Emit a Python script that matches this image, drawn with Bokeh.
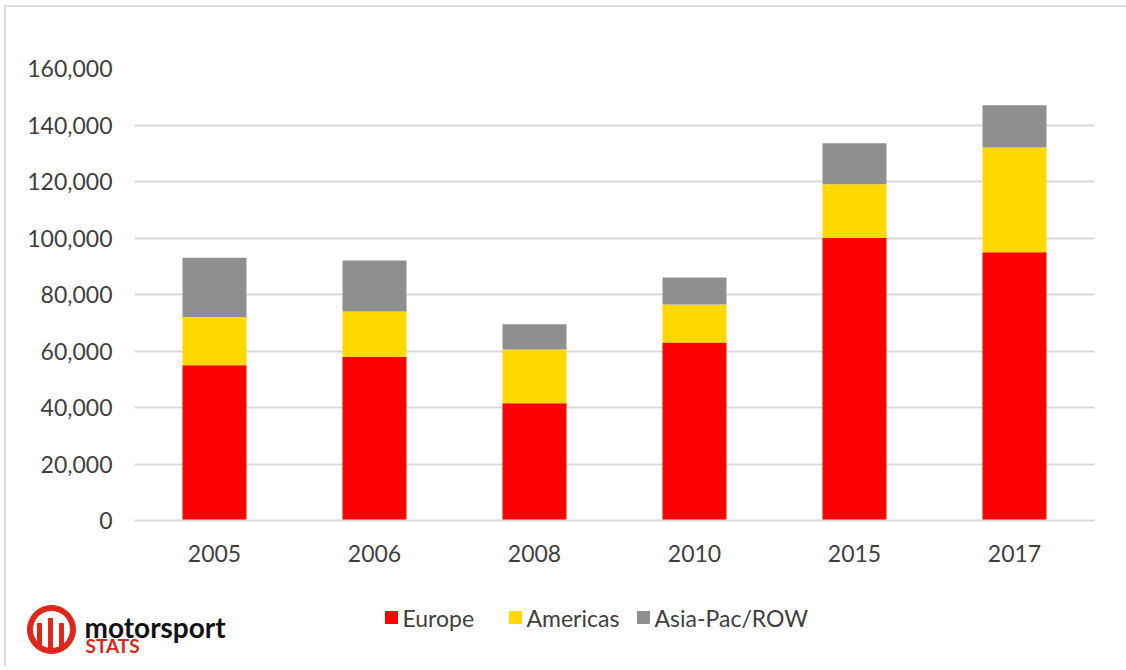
from bokeh.plotting import figure
from bokeh.models import ColumnDataSource, NumeralTickFormatter, Range1d, FactorRange, FixedTicker
from bokeh.layouts import column, row
from bokeh.core.properties import value
from bokeh.embed import file_html
from bokeh.resources import INLINE
import math

years = ["2005", "2006", "2008", "2010", "2015", "2017"]
europe = [55000, 58000, 41500, 63000, 100000, 95000]
americas = [17000, 16000, 19000, 13500, 19000, 37000]
asia_pac = [21000, 18000, 9000, 9500, 14500, 15000]
series_names = ["Europe", "Americas", "Asia-Pac/ROW"]
series_keys = ["europe", "americas", "asia_pac"]
series_colors = ["#FF0000", "#FFD900", "#8F8F8F"]
y_ticks = [0, 20000, 40000, 60000, 80000, 100000, 120000, 140000, 160000]

FONT = "Lato"
TXT = "#404040"
GRID = "#D9D9D9"
W = 1120

src = ColumnDataSource(dict(year=years, europe=europe, americas=americas, asia_pac=asia_pac))

p = figure(width=W, height=576, x_range=FactorRange(factors=years, range_padding=0),
           y_range=Range1d(0, 160000), toolbar_location=None, output_backend="svg",
           min_border_left=128, min_border_right=W - 128 - 960, min_border_top=61, min_border_bottom=63)
p.vbar_stack(series_keys, x="year", width=0.4, color=series_colors, line_color=None, source=src)

p.outline_line_color = None
p.xgrid.visible = False
p.ygrid.grid_line_color = GRID
p.ygrid.grid_line_width = 2
p.yaxis.ticker = FixedTicker(ticks=y_ticks)
p.yaxis.formatter = NumeralTickFormatter(format="0,0")
p.yaxis.axis_line_color = None
p.yaxis.major_tick_line_color = None
p.yaxis.minor_tick_line_color = None
p.yaxis.major_label_standoff = 16
p.xaxis.axis_line_color = GRID
p.xaxis.axis_line_width = 2
p.xaxis.major_tick_line_color = None
p.xaxis.major_label_standoff = 18
for ax in (p.xaxis, p.yaxis):
    ax.major_label_text_font = FONT
    ax.major_label_text_font_size = "23px"
    ax.major_label_text_color = TXT

# bottom strip: logo + legend
H = 83
b = figure(width=W, height=H, x_range=Range1d(0, W), y_range=Range1d(0, H),
           toolbar_location=None, output_backend="svg", min_border=0)
b.axis.visible = False
b.grid.visible = False
b.outline_line_color = None

LOGO_RED = "#E1251B"
cx, cy, r_in, r_out = 45, 37, 19, 24
b.annulus(x=[cx], y=[cy], inner_radius=r_in, outer_radius=r_out, color=LOGO_RED)
bar_dx = [-12, -1, 10]
bar_top = [43, 48, 43]
lefts = [cx + d - 2 for d in bar_dx]
rights = [cx + d + 2 for d in bar_dx]
bottoms = [cy - math.sqrt(r_in ** 2 - d ** 2) - 1 for d in bar_dx]
b.quad(left=lefts, right=rights, top=bar_top, bottom=bottoms, color=LOGO_RED)
b.text(x=[78], y=[40], text=["motorsport"], text_font=value(FONT), text_font_style="bold",
       text_font_size="28px", text_baseline="alphabetic", text_color="#111111")
b.text(x=[79], y=[21], text=["STATS"], text_font=value(FONT), text_font_style="bold",
       text_font_size="19px", text_baseline="alphabetic", text_color=LOGO_RED)

legend_x = [379, 503, 631]
ly = 49
b.rect(x=[lx + 6 for lx in legend_x], y=[ly] * 3, width=12, height=12, color=series_colors)
b.text(x=[lx + 17 for lx in legend_x], y=[ly] * 3, text=series_names, text_font=value(FONT),
       text_font_size="23px", text_baseline="middle", text_color=TXT)

layout = column(p, row(b), styles={"border-style": "solid",
                                   "border-width": "2px 0px 0px 2px",
                                   "border-color": "#DDDDDD",
                                   "margin-left": "4px", "margin-top": "5px"})
open("out.html", "w").write(file_html(layout, INLINE))
